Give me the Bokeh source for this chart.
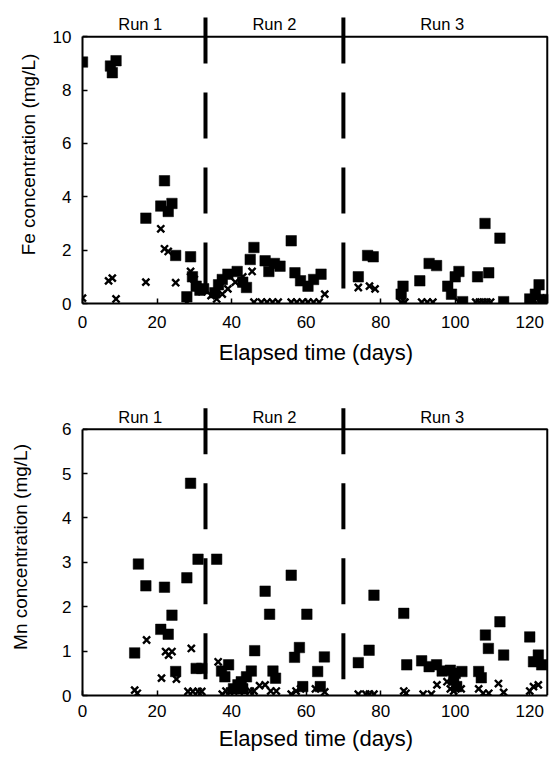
from bokeh.plotting import figure
from bokeh.layouts import column
from bokeh.models import FixedTicker
from bokeh.core.properties import value
from bokeh.embed import file_html
from bokeh.resources import INLINE

# ---------------- data ----------------
run_names = ["Run 1", "Run 2", "Run 3"]
run_label_day = [15.5, 51.5, 96.5]
run_boundaries = [33, 70]
x_ticks = [0, 20, 40, 60, 80, 100, 120]

# Fe concentration, filled squares
fe_sq_day = [0, 7.5, 8, 9, 17, 21, 22, 23, 24, 25, 28, 29, 29.5, 30.5, 31.5, 32.5,
             35.5, 36.5, 37.5, 39, 41.5, 43, 44, 45, 46, 49, 50, 51.5, 53, 56, 57, 58.5, 60.5, 62, 64,
             74, 76.5, 78, 85.5, 86, 90.5, 93, 95, 98, 99, 100, 101, 102, 106, 108, 109, 112, 113,
             120, 121.5, 122.5, 123.5]
fe_sq_val = [9.05, 8.9, 8.65, 9.1, 3.2, 3.65, 4.6, 3.45, 3.75, 1.8, 0.25, 1.75, 1.0, 0.65, 0.5, 0.55,
             0.4, 0.7, 0.9, 1.1, 1.2, 0.8, 0.6, 1.65, 2.1, 1.6, 1.2, 1.5, 1.4, 2.35, 1.15, 0.85, 0.65, 0.9, 1.1,
             1.0, 1.8, 1.75, 0.35, 0.65, 0.85, 1.5, 1.42, 0.65, 0.35, 1.0, 1.2, 0.07, 1.0, 3.0, 1.15, 2.45, 0.07,
             0.17, 0.35, 0.7, 0.15]

# Fe concentration, crosses
fe_x_day = [0, 7, 8, 9, 17, 21, 22, 23, 25, 28, 29, 30, 31, 32, 34.5, 36, 37.5, 39, 41, 43, 45.5,
            46, 48, 49.5, 51, 52.5, 56, 57.5, 59, 60.5, 62, 63.5, 65,
            74, 77, 78.5, 85.5, 86.5, 91, 92.5, 94, 101, 105.5, 106.5, 107.5, 108.5, 109.5,
            120, 121, 122, 123]
fe_x_val = [0.2, 0.85, 0.95, 0.17, 0.8, 2.8, 2.05, 1.95, 0.78, 0.05, 1.2, 0.9, 0.6, 0.45, 0.3, 0.17, 0.35, 0.55, 0.8, 1.0, 1.2,
            0.05, 0.05, 0.05, 0.05, 0.05, 0.05, 0.05, 0.05, 0.05, 0.05, 0.05, 0.35,
            0.6, 0.65, 0.55, 0.05, 0.05, 0.05, 0.05, 0.05, 0.05, 0.05, 0.05, 0.05, 0.05, 0.05,
            0.1, 0.15, 0.2, 0.2]

# Mn concentration, filled squares
mn_sq_day = [14, 15, 17, 21, 22, 23, 24, 25, 28, 29, 30.5, 31, 32,
             36, 37.3, 38.2, 39.2, 40.5, 41.7, 42.6, 43, 44, 45.3, 46.2, 49, 50.2, 51.1, 51.8,
             56, 56.9, 58.2, 59.1, 60.2, 63.1, 63.8, 64.9,
             74, 76.9, 78.2, 86.2, 87, 91, 93, 95, 96.5, 98.7, 99.6, 100, 100.4, 101.8,
             106.3, 107, 108.1, 108.9, 112, 113, 120, 121, 122.3, 123.2]
mn_sq_val = [0.96, 2.96, 2.47, 1.49, 2.44, 1.38, 1.81, 0.54, 2.65, 4.78, 0.61, 3.07, 0.61,
             3.07, 0.55, 0.42, 0.69, 0.15, 0.24, 0.31, 0.15, 0.42, 0.55, 1.01, 2.35, 1.83, 0.55, 0.39,
             2.71, 0.86, 1.08, 0.2, 1.83, 0.54, 0.2, 0.87,
             0.74, 1.02, 2.26, 1.85, 0.69, 0.78, 0.65, 0.69, 0.55, 0.57, 0.35, 0.5, 0.2, 0.54,
             0.54, 0.4, 1.36, 1.06, 1.66, 0.91, 1.32, 0.76, 0.91, 0.69]

# Mn concentration, crosses
mn_x_day = [14, 14.7, 17.2, 21.2, 22.3, 23.1, 24, 25.2, 28.3, 29.2, 29.6, 31, 32,
            36.4, 37.5, 38.5, 39.5, 42, 43.5, 45, 46, 47.5, 49, 50.5, 52, 56, 57.3, 58.5, 62.5, 65,
            74, 76, 77, 78.2, 86.2, 86.8, 91.4, 93.6, 95.1, 97.8, 98.7, 99.6, 100.6, 101.6,
            106.3, 107.5, 109, 111.6, 113, 120, 121, 122.3]
mn_x_val = [0.12, 0.05, 1.25, 0.39, 0.99, 0.91, 0.99, 0.37, 0.09, 1.06, 0.09, 0.09, 0.09,
            0.76, 0.03, 0.1, 0.1, 0.1, 0.1, 0.1, 0.1, 0.22, 0.24, 0.1, 0.1, 0.03, 0.1, 0.15, 0.15, 0.08,
            0.03, 0.03, 0.03, 0.03, 0.1, 0.05, 0.03, 0.03, 0.24, 0.31, 0.15, 0.1, 0.18, 0.15,
            0.15, 0.05, 0.05, 0.27, 0.07, 0.1, 0.2, 0.24]

FONT = "Liberation Sans"
X_END = 125.3
X_FRAME = 124.7


def make_panel(sq_day, sq_val, x_day, x_val, y_max, y_top, dash_top, label_y,
               ylabel, height, border_top, border_bottom, ylab_standoff,
               xlab_standoff, tick_standoff_x):
    p = figure(width=549, height=height, output_backend="svg", toolbar_location=None,
               x_range=(0, X_END), y_range=(0, y_top),
               min_border_left=82, min_border_right=0,
               min_border_top=border_top, min_border_bottom=border_bottom)
    p.outline_line_color = None
    p.grid.visible = False
    p.background_fill_color = "white"
    p.border_fill_color = "white"

    # axes
    p.xaxis.ticker = FixedTicker(ticks=x_ticks)
    p.yaxis.ticker = FixedTicker(ticks=list(range(0, y_max + 1, 2 if y_max == 10 else 1)))
    p.yaxis.bounds = (0, y_max)
    p.xaxis.bounds = (0, X_FRAME)
    for ax in (p.xaxis, p.yaxis):
        ax.axis_line_width = 2
        ax.axis_line_color = "black"
        ax.major_tick_in = 5
        ax.major_tick_out = 0
        ax.major_tick_line_width = 1.5
        ax.minor_tick_line_color = None
        ax.major_label_text_font = FONT
        ax.major_label_text_font_size = "17px"
        ax.major_label_text_color = "black"
        ax.axis_label_text_font = FONT
        ax.axis_label_text_font_style = "normal"
        ax.axis_label_text_color = "black"
    p.xaxis.axis_label = "Elapsed time (days)"
    p.xaxis.axis_label_text_font_size = "22px"
    p.xaxis.major_label_standoff = tick_standoff_x
    p.xaxis.axis_label_standoff = xlab_standoff
    p.yaxis.axis_label = ylabel
    p.yaxis.axis_label_text_font_size = "19px"
    p.yaxis.major_label_standoff = 11
    p.yaxis.axis_label_standoff = ylab_standoff

    # frame: top side and right side
    p.line(x=[0, X_FRAME, X_FRAME], y=[y_max, y_max, 0],
           line_color="black", line_width=2)

    # run boundaries (long dashes)
    for b in run_boundaries:
        p.segment(x0=[b], y0=[dash_top], x1=[b], y1=[0], line_color="black",
                  line_width=4, line_dash="46 29", line_cap="butt")

    # run labels
    p.text(x=run_label_day, y=[label_y] * 3, text=run_names,
           text_font=value(FONT), text_font_size="16.5px", text_color="black",
           text_align="center", text_baseline="middle")

    # data
    p.scatter(sq_day, sq_val, marker="square", size=10.5, fill_color="black",
              line_color="black", line_width=0.5)
    p.scatter(x_day, x_val, marker="x", size=10, line_color="black", line_width=2.4)
    return p


p1 = make_panel(fe_sq_day, fe_sq_val, fe_x_day, fe_x_val, y_max=10, y_top=11.17,
                dash_top=10.72, label_y=10.46, ylabel="Fe concentration (mg/L)",
                height=378, border_top=5, border_bottom=75, ylab_standoff=11,
                xlab_standoff=9, tick_standoff_x=12)
p2 = make_panel(mn_sq_day, mn_sq_val, mn_x_day, mn_x_val, y_max=6, y_top=6.69,
                dash_top=6.47, label_y=6.27, ylabel="Mn concentration (mg/L)",
                height=378, border_top=20, border_bottom=61, ylab_standoff=28,
                xlab_standoff=6, tick_standoff_x=9)

layout = column(p1, p2, spacing=0)
open("out.html", "w").write(file_html(layout, INLINE))
